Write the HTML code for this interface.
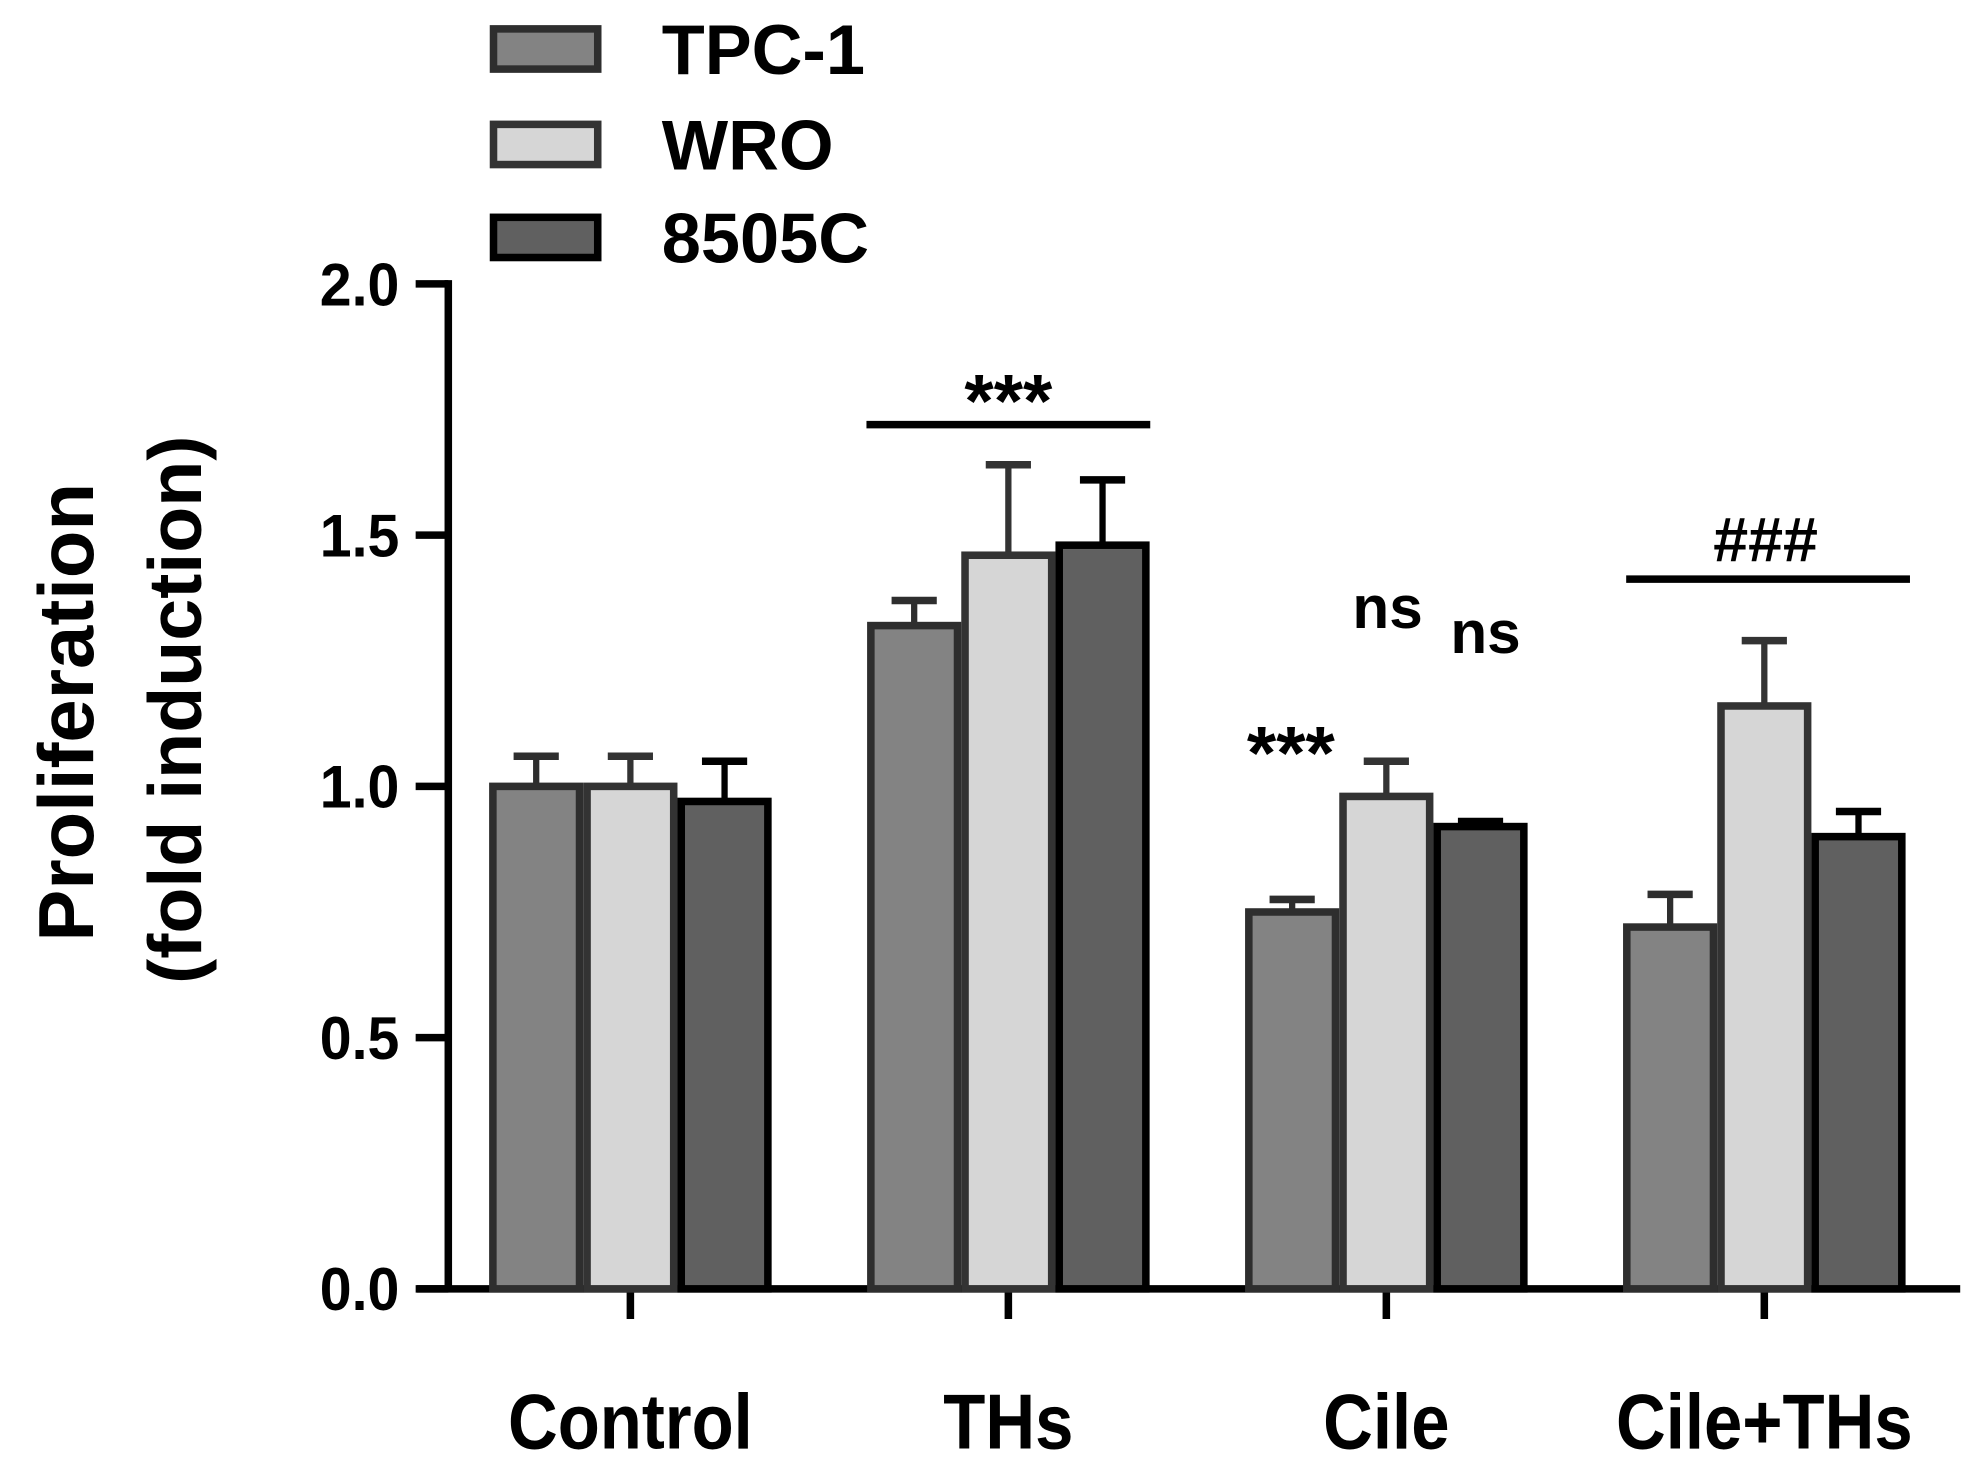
<!DOCTYPE html>
<html><head><meta charset="utf-8"><style>
html,body{margin:0;padding:0;background:#fff;}
svg{display:block;}
text{font-family:"Liberation Sans Narrow","Liberation Sans",sans-serif;font-weight:bold;fill:#000;}
</style></head><body>
<svg id="chart" width="1969" height="1471" viewBox="0 0 1568 1171" preserveAspectRatio="none" xmlns="http://www.w3.org/2000/svg"></svg>
<script>
const categories = ["Control", "THs", "Cile", "Cile+THs"];
const seriesNames = ["TPC-1", "WRO", "8505C"];
const tpc1 = [1.00, 1.32, 0.75, 0.72];
const wro = [1.00, 1.46, 0.98, 1.16];
const c8505 = [0.97, 1.48, 0.92, 0.90];
const tpc1Err = [0.06, 0.05, 0.025, 0.065];
const wroErr = [0.06, 0.18, 0.07, 0.13];
const c8505Err = [0.08, 0.13, 0.01, 0.05];
const yTicks = [0.0, 0.5, 1.0, 1.5, 2.0];
const yTickLabels = ["0.0", "0.5", "1.0", "1.5", "2.0"];

const svg = document.getElementById('chart');
const NS = 'http://www.w3.org/2000/svg';
function mk(tag, attrs, parent) {
  const e = document.createElementNS(NS, tag);
  for (const k in attrs) e.setAttribute(k, attrs[k]);
  (parent || svg).appendChild(e);
  return e;
}
const y0 = 1026, yTop = 226;
function yScale(v) { return y0 - (v / 2.0) * (y0 - yTop); }
const groupCenters0 = 502, groupStep = 301, barW = 75;
function xCenter(i) { return groupCenters0 + i * groupStep; }

const fills = ["#838383", "#d6d6d6", "#606060"];
const strokes = ["#2e2e2e", "#333333", "#000000"];
const vals = [tpc1, wro, c8505];
const errs = [tpc1Err, wroErr, c8505Err];

// y axis
let el = mk('line', {x1: 357, y1: yTop - 3, x2: 357, y2: y0, stroke: '#000', 'stroke-width': 6});


yTicks.forEach((t, i) => {
  const y = yScale(t);
  let tk = mk('line', {x1: 331, y1: y, x2: 357, y2: y, stroke: '#000', 'stroke-width': 6});
  
  
  let tl = mk('text', {x: 0, y: 0, 'text-anchor': 'end', 'font-size': 48, transform: 'translate(318,' + (y + 17) + ') scale(0.95,1)'});
  tl.textContent = yTickLabels[i];
  
  
});
// x axis
el = mk('line', {x1: 332, y1: y0, x2: 1561, y2: y0, stroke: '#000', 'stroke-width': 6});


categories.forEach((c, i) => {
  const x = xCenter(i);
  let tk = mk('line', {x1: x, y1: y0, x2: x, y2: 1050, stroke: '#000', 'stroke-width': 6});
  
  
  let tl = mk('text', {x: 0, y: 0, 'text-anchor': 'middle', 'font-size': 62, transform: 'translate(' + x + ',1153) scale(0.885,1)'});
  tl.textContent = c;
  
  
});
// bars
categories.forEach((c, i) => {
  for (let s = 0; s < 3; s++) {
    const cx = xCenter(i) + (s - 1) * barW;
    const v = vals[s][i], e = errs[s][i];
    const yt = yScale(v), ye = yScale(v + e);
    let ln = mk('line', {x1: cx, y1: yt, x2: cx, y2: ye, stroke: strokes[s], 'stroke-width': 5});
    
    
    let cap = mk('line', {x1: cx - 18, y1: ye, x2: cx + 18, y2: ye, stroke: strokes[s], 'stroke-width': 6});
    
    
    let r = mk('rect', {x: cx - barW / 2 + 3, y: yt, width: barW - 6, height: y0 - yt, fill: fills[s], stroke: strokes[s], 'stroke-width': 6});
    
    
  }
});
// significance annotations
function sigLine(x1, x2, y, name) {
  let l = mk('line', {x1: x1, y1: y, x2: x2, y2: y, stroke: '#000', 'stroke-width': 6});
  
  
}
function label(x, y, t, size, name) {
  let tl = mk('text', {x: x, y: y, 'text-anchor': 'middle', 'font-size': size});
  tl.textContent = t;
  
  
}
sigLine(690, 916, 338, 'ths-significance-line');
label(803, 340, '***', 60, 'ths-significance-label');
sigLine(1295, 1521, 461, 'cile-ths-significance-line');
label(1406, 447, '###', 50, 'cile-ths-significance-label');
label(1028, 620, '***', 60, 'cile-tpc1-significance-label');
label(1105, 500, 'ns', 48, 'cile-wro-ns-label');
label(1183, 520, 'ns', 48, 'cile-8505c-ns-label');
// y title
let yt1 = mk('text', {x: 0, y: 0, 'text-anchor': 'middle', 'font-size': 62, transform: 'translate(74,567) rotate(-90)'});
yt1.textContent = 'Proliferation';


let yt2 = mk('text', {x: 0, y: 0, 'text-anchor': 'middle', 'font-size': 60, transform: 'translate(160,565) rotate(-90)'});
yt2.textContent = '(fold induction)';


// legend
const legY = [20, 96, 170];
seriesNames.forEach((n, s) => {
  let r = mk('rect', {x: 393, y: legY[s] + 3, width: 83, height: 32, fill: fills[s], stroke: strokes[s], 'stroke-width': 6});
  
  
  let t = mk('text', {x: 527, y: legY[s] + 39, 'font-size': 56});
  t.textContent = n;
  
  
});
</script>
</body></html>
